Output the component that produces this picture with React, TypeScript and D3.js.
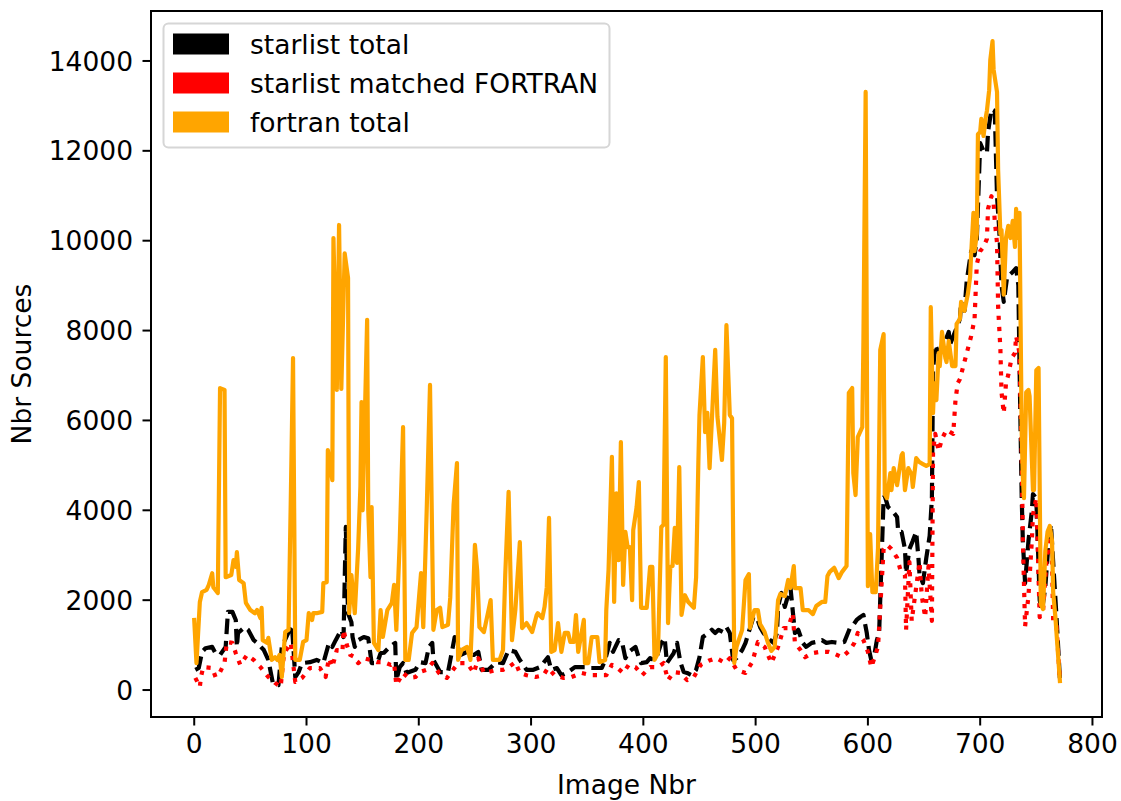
import * as d3 from "d3";

// [image nbr, nbr sources]
const fortranTotal: [number, number][] = [
  [0,1560],[2,600],[5,1960],[7,2180],[11,2230],[13,2340],[16,2600],[17,2290],[21,2160],[23,6720],[27,6680],[28,2510],
  [33,2560],[35,2890],[37,2740],[38,3070],[40,2450],[44,2380],[46,1940],[50,1780],[54,1710],[56,1780],[59,1600],[60,1830],
  [61,1110],[65,1050],[66,1160],[69,670],[72,730],[74,670],[76,780],[78,290],[81,1290],[84,1340],[86,4230],[88,7390],
  [90,670],[94,670],[97,1070],[100,1110],[102,1710],[105,1560],[106,1710],[109,1710],[114,1740],[115,2380],[118,2400],
  [119,5340],[123,4670],[124,10060],[127,6680],[129,10350],[131,6700],[134,9720],[137,9170],[138,1710],[140,2560],
  [143,1710],[146,3160],[148,4520],[149,6410],[150,4000],[154,8240],[155,4000],[157,2510],[158,4070],[160,1050],
  [164,890],[166,1780],[168,1180],[172,1780],[176,1940],[178,2340],[180,1340],[183,3290],[186,5850],[188,670],[191,670],
  [194,1270],[198,1400],[202,2600],[204,1400],[207,3960],[210,6790],[213,1340],[216,1780],[219,1830],[221,1400],
  [226,1450],[228,2050],[231,4120],[234,5050],[235,670],[238,890],[243,960],[246,670],[248,1850],[250,3230],[252,2670],
  [254,1400],[258,1290],[264,2000],[266,670],[272,670],[275,890],[277,2560],[280,4410],[283,1110],[286,1780],[290,3290],
  [292,1380],[296,1490],[301,1290],[305,1670],[306,1710],[310,1600],[312,1850],[314,2290],[316,3830],[318,850],[321,890],
  [324,1490],[327,850],[330,1270],[333,1270],[335,1070],[338,1070],[340,1670],[342,850],[347,1560],[348,600],[351,600],
  [354,1180],[359,1180],[361,620],[366,670],[367,1780],[369,2670],[372,5190],[374,1960],[376,4380],[378,2890],[380,5520],
  [382,2340],[384,3520],[386,3180],[388,3180],[390,2000],[391,3560],[394,4070],[396,4630],[398,1830],[403,1830],
  [406,2740],[408,2740],[410,670],[413,820],[416,3630],[418,3680],[420,7410],[422,1490],[424,2740],[426,2760],[428,3610],
  [430,2830],[432,4960],[434,1670],[437,2110],[440,1960],[445,1830],[447,2510],[449,5070],[450,6120],[453,7410],
  [455,5740],[457,6170],[459,4940],[464,7570],[466,6080],[470,5120],[472,5940],[474,8120],[477,6120],[479,6050],
  [481,600],[483,960],[488,1340],[491,2450],[494,2580],[495,1380],[499,1780],[502,1780],[504,1470],[508,1290],[511,1050],
  [514,870],[517,960],[520,2000],[522,2140],[526,2090],[529,2450],[531,2270],[534,2760],[535,2270],[540,2270],[542,1780],
  [547,1780],[551,1690],[554,1870],[559,1960],[562,1960],[564,2540],[566,2630],[570,2720],[574,2490],[577,2630],
  [581,2760],[583,6610],[586,6720],[587,4830],[589,4340],[591,5630],[595,5850],[596,7740],[598,13310],[600,2310],
  [602,3470],[604,2180],[607,2180],[609,3160],[611,7570],[614,7920],[615,4360],[617,4270],[620,4830],[621,4450],
  [623,4940],[626,4560],[630,5230],[631,5270],[633,4450],[636,4940],[639,4790],[640,4520],[642,4940],[643,5160],
  [646,5070],[649,5030],[652,4990],[655,5030],[656,8520],[658,6160],[659,6830],[661,6450],[663,7500],[664,7210],
  [666,7970],[669,7390],[670,7300],[672,7770],[675,7210],[678,7210],[679,8150],[682,8260],[683,8640],[686,8440],
  [689,8810],[691,9190],[692,9720],[694,10620],[695,9770],[697,10150],[698,12370],[700,12420],[701,12710],[703,12330],
  [705,12750],[706,12890],[708,13350],[709,14020],[711,14440],[712,13800],[715,13310],[716,11570],[718,10150],
  [719,10240],[721,8800],[723,10060],[725,10330],[727,10060],[729,10440],[731,9860],[732,10710],[734,10060],[735,10620],
  [737,5700],[738,4740],[739,4270],[741,6630],[743,6680],[744,6540],[747,4450],[748,4450],[750,7120],[752,7170],
  [754,1910],[756,1800],[758,3090],[760,3520],[762,3650],[764,3320],[765,2180],[767,1620],[771,200],
];

const starlistTotal: [number, number][] = [
  [1,450],[4,490],[7,850],[10,930],[16,960],[19,820],[23,780],[28,960],[30,1740],[34,1740],[37,1560],[38,960],[39,1270],
  [45,1400],[48,1340],[53,1110],[56,1050],[62,890],[66,670],[70,160],[75,110],[78,960],[82,1180],[87,1450],[90,290],
  [93,400],[96,600],[103,620],[109,670],[115,600],[120,1050],[123,960],[126,1110],[131,1340],[133,1180],[135,3630],
  [137,1710],[140,1510],[141,1180],[143,960],[146,1110],[151,1180],[155,1150],[158,600],[163,600],[166,820],[169,830],
  [174,960],[179,1050],[180,220],[183,510],[186,600],[189,380],[197,450],[201,620],[206,600],[209,960],[212,1050],
  [213,670],[219,400],[226,400],[232,1180],[237,780],[243,850],[249,780],[253,850],[256,450],[262,450],[269,620],
  [275,600],[280,890],[286,850],[290,670],[296,450],[302,450],[308,510],[315,730],[318,450],[323,490],[327,330],
  [333,400],[339,510],[348,510],[352,490],[363,490],[366,670],[370,1050],[373,850],[378,1110],[381,1070],[384,710],
  [387,850],[393,960],[396,720],[398,600],[403,620],[406,710],[409,670],[412,750],[416,1050],[419,1160],[421,600],
  [424,710],[427,820],[430,1050],[433,620],[436,400],[439,380],[443,330],[447,450],[450,730],[453,1180],[458,1270],
  [461,1340],[464,1270],[467,1340],[471,1290],[474,1400],[477,1270],[480,670],[483,710],[488,890],[491,1050],[495,1380],
  [498,1620],[501,1620],[504,1400],[507,1270],[510,1180],[513,1110],[516,1050],[519,1270],[520,1850],[523,2160],
  [526,1850],[531,2290],[535,1270],[538,1340],[542,1050],[545,960],[550,1050],[554,1070],[559,1110],[563,1050],
  [568,1070],[574,1050],[579,1070],[584,1380],[587,1450],[590,1560],[593,1620],[596,1670],[599,1270],[601,890],
  [603,670],[606,820],[608,1110],[610,1270],[614,4270],[615,4320],[618,4070],[622,3980],[626,3850],[627,3520],
  [630,3520],[633,3140],[634,2600],[637,3140],[640,3320],[643,3520],[645,2940],[646,2560],[649,2380],[652,2940],
  [655,3430],[657,4270],[658,7120],[660,7680],[663,7500],[666,7590],[669,7770],[672,7970],[673,7680],[679,8060],
  [682,8260],[683,8640],[686,8440],[688,9100],[692,9770],[695,9680],[697,10040],[700,12170],[703,12000],[706,11950],
  [707,12420],[710,12930],[713,12890],[715,10990],[717,10240],[719,9010],[721,8640],[724,9190],[728,9280],[732,9390],
  [734,9010],[735,7300],[737,4270],[738,3320],[740,2380],[743,3320],[746,3980],[747,4360],[750,4270],[753,2000],
  [755,1760],[758,2290],[761,3320],[763,3690],[765,2850],[768,1620],[771,250],
];

const starlistMatched: [number, number][] = [
  [1,270],[5,70],[6,290],[8,510],[16,490],[19,290],[23,400],[27,600],[29,1070],[34,1050],[37,820],[41,560],[47,780],
  [53,670],[59,510],[66,290],[72,160],[77,70],[80,820],[86,1050],[90,180],[96,270],[103,490],[112,490],[117,290],
  [120,710],[123,510],[127,890],[132,850],[133,1340],[136,1000],[139,780],[143,730],[146,600],[151,710],[157,670],
  [163,620],[169,620],[175,560],[178,600],[180,110],[186,380],[191,270],[197,290],[201,400],[207,450],[212,600],
  [218,380],[225,270],[229,400],[235,600],[243,600],[249,380],[253,710],[258,380],[262,400],[270,450],[275,450],
  [280,510],[286,620],[290,380],[296,330],[304,290],[311,330],[315,490],[321,330],[329,270],[336,290],[345,380],
  [354,330],[367,330],[372,560],[376,510],[382,380],[387,560],[393,510],[399,330],[406,510],[413,510],[418,600],
  [422,220],[427,400],[433,380],[439,220],[445,290],[451,560],[458,650],[465,710],[473,600],[477,710],[483,450],
  [491,380],[497,620],[502,1070],[508,960],[514,600],[520,960],[525,1380],[529,1380],[533,1710],[535,1050],[540,890],
  [544,730],[550,820],[557,850],[565,850],[569,820],[577,730],[584,890],[588,1050],[591,1270],[596,1110],[600,850],
  [603,510],[606,730],[609,960],[614,3140],[617,3230],[621,3140],[626,2940],[629,2670],[633,2560],[634,1340],
  [637,2850],[639,1540],[646,2850],[648,2090],[651,1620],[654,2760],[657,1540],[658,5320],[660,5700],[663,5320],
  [666,5590],[670,5790],[676,5700],[678,6450],[680,6830],[682,6920],[685,7210],[689,7590],[692,7880],[695,8260],
  [697,9480],[700,9770],[703,9860],[706,10040],[707,10710],[710,10990],[712,10820],[713,10440],[715,9950],[716,8520],
  [718,7590],[719,6630],[721,6160],[723,6830],[725,7010],[728,7390],[731,7500],[732,7880],[735,7500],[737,5230],
  [738,3320],[740,1420],[743,2090],[746,3320],[747,3900],[750,4270],[753,1620],[756,1760],[759,2850],[761,3320],
  [764,2850],[765,1540],[768,1420],[771,200],
];

const xTicks = [0, 100, 200, 300, 400, 500, 600, 700, 800];
const yTicks = [0, 2000, 4000, 6000, 8000, 10000, 12000, 14000];

const legendItems = [
  { label: "starlist total", color: "#000000" },
  { label: "starlist matched FORTRAN", color: "#ff0000" },
  { label: "fortran total", color: "#ffa500" },
];

const W = 1121;
const H = 801;
const plot = { left: 151, right: 1102, top: 11, bottom: 717 };
const font = "'DejaVu Sans', sans-serif";
const fs = 26.5;
const lw = 4.2;

export default function App() {
  const x = d3.scaleLinear().domain([-38.5, 808.5]).range([plot.left, plot.right]);
  const y = d3.scaleLinear().domain([-600, 15112]).range([plot.bottom, plot.top]);
  const line = d3
    .line<[number, number]>()
    .x((d) => x(d[0]))
    .y((d) => y(d[1]));

  return (
    <svg
      width={W}
      height={H}
      style={{ position: "absolute", left: 0, top: 0, background: "#fff" }}
      fontFamily={font}
    >
      <rect width={W} height={H} fill="#fff" />
      <defs>
        <clipPath id="plotClip">
          <rect x={plot.left} y={plot.top} width={plot.right - plot.left} height={plot.bottom - plot.top} />
        </clipPath>
      </defs>

      <g clipPath="url(#plotClip)" fill="none" strokeLinejoin="round">
        <path d={line(starlistTotal) ?? ""} stroke="#000" strokeWidth={lw} strokeDasharray={`${3.7 * lw},${1.6 * lw}`} />
        <path d={line(starlistMatched) ?? ""} stroke="#ff0000" strokeWidth={lw} strokeDasharray={`${1 * lw},${1.65 * lw}`} />
        <path d={line(fortranTotal) ?? ""} stroke="#ffa500" strokeWidth={lw} strokeLinecap="square" />
      </g>

      {/* frame */}
      <rect
        x={plot.left}
        y={plot.top}
        width={plot.right - plot.left}
        height={plot.bottom - plot.top}
        fill="none"
        stroke="#000"
        strokeWidth={2}
      />

      {/* x axis */}
      {xTicks.map((t) => (
        <g key={t} transform={`translate(${x(t)},${plot.bottom})`}>
          <line y2={8.5} stroke="#000" strokeWidth={2} />
          <text y={36} textAnchor="middle" fontSize={fs} fill="#000">
            {t}
          </text>
        </g>
      ))}
      <text x={(plot.left + plot.right) / 2} y={794} textAnchor="middle" fontSize={fs} fill="#000">
        Image Nbr
      </text>

      {/* y axis */}
      {yTicks.map((t) => (
        <g key={t} transform={`translate(${plot.left},${y(t)})`}>
          <line x2={-8.5} stroke="#000" strokeWidth={2} />
          <text x={-18} dy="0.36em" textAnchor="end" fontSize={fs} fill="#000">
            {t}
          </text>
        </g>
      ))}
      <text
        transform={`translate(31,${(plot.top + plot.bottom) / 2}) rotate(-90)`}
        textAnchor="middle"
        fontSize={fs}
        fill="#000"
      >
        Nbr Sources
      </text>

      {/* legend */}
      <rect x={163.5} y={23.5} width={446} height={124} rx={5} fill="#fff" fillOpacity={0.8} stroke="#d6d6d6" strokeWidth={2} />
      {legendItems.map((d, i) => (
        <g key={d.label} transform={`translate(0,${44 + i * 39})`}>
          <rect x={173} y={-10.5} width={56} height={21} fill={d.color} />
          <text x={250} dy="0.36em" fontSize={fs} fill="#000">
            {d.label}
          </text>
        </g>
      ))}
    </svg>
  );
}
